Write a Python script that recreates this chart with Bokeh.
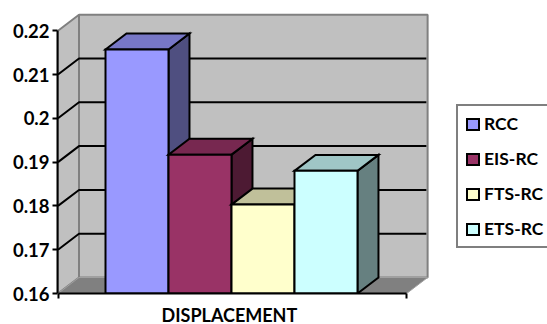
from bokeh.embed import file_html
from bokeh.models import FixedTicker, Legend, LegendItem, Range1d, Title
from bokeh.plotting import figure
from bokeh.resources import INLINE

# Series of the single DISPLACEMENT category
series = ["RCC", "EIS-RC", "FTS-RC", "ETS-RC"]
values = [0.2157, 0.1917, 0.1803, 0.188]
front_colors = ["#9999FF", "#993366", "#FFFFCC", "#CCFFFF"]
top_colors = ["#7777C6", "#772850", "#C0C09A", "#9FC6C6"]
side_colors = ["#4F4F80", "#4D1A33", "#80806A", "#668080"]

y_ticks = [0.16, 0.17, 0.18, 0.19, 0.20, 0.21, 0.22]
y_labels = ["0.16", "0.17", "0.18", "0.19", "0.2", "0.21", "0.22"]
x_label = "DISPLACEMENT"

# Pseudo-3D geometry: x is in bar widths, y in data units
Y_BASE, Y_TOP = y_ticks[0], y_ticks[-1]
DX, DY = 0.333, 0.00365
X_LEFT, X_RIGHT = -0.754, 4.78
FONT = "Lato"

p = figure(
    width=547, height=324, output_backend="svg", toolbar_location=None,
    frame_width=490, frame_height=293,
    x_range=Range1d(-0.762, 7.016),
    y_range=Range1d(Y_BASE, Y_BASE + 0.0669),
    min_border_left=57, min_border_right=0, min_border_top=0, min_border_bottom=0,
    background_fill_color="white", border_fill_color="white", outline_line_color=None,
)
p.grid.visible = False

# Walls and floor
wall = dict(fill_color="#C0C0C0", line_color="#808080", line_width=2)
p.patch([X_LEFT + DX, X_RIGHT + DX, X_RIGHT + DX, X_LEFT + DX],
        [Y_BASE + DY, Y_BASE + DY, Y_TOP + DY, Y_TOP + DY], **wall)
p.patch([X_LEFT, X_LEFT + DX, X_LEFT + DX, X_LEFT],
        [Y_BASE, Y_BASE + DY, Y_TOP + DY, Y_TOP], **wall)
p.patch([X_LEFT, X_RIGHT, X_RIGHT + DX, X_LEFT + DX],
        [Y_BASE, Y_BASE, Y_BASE + DY, Y_BASE + DY],
        fill_color="#808080", line_color="#A0A0A0", line_width=1)

# Gridlines run along the side wall and across the back wall
for tick in y_ticks[1:-1]:
    p.line([X_LEFT, X_LEFT + DX, X_RIGHT + DX - 0.02],
           [tick, tick + DY, tick + DY], line_color="black", line_width=2)

# Bars, left to right so each one overlaps the previous side face
edge = dict(line_color="black", line_width=2, line_join="miter")
legend_items = []
for i, (name, v) in enumerate(zip(series, values)):
    p.patch([i + 1, i + 1 + DX, i + 1 + DX, i + 1],
            [Y_BASE, Y_BASE + DY, v + DY, v], fill_color=side_colors[i], **edge)
    p.patch([i, i + 1, i + 1 + DX, i + DX],
            [v, v, v + DY, v + DY], fill_color=top_colors[i], **edge)
    front = p.quad(left=i, right=i + 1, bottom=Y_BASE, top=v,
                   fill_color=front_colors[i], **edge)
    legend_items.append(LegendItem(label=name, renderers=[front]))

# Axes
yax = p.yaxis[0]
yax.ticker = FixedTicker(ticks=y_ticks)
yax.major_label_overrides = dict(zip(y_ticks, y_labels))
yax.bounds = (Y_BASE, Y_TOP)
yax.axis_line_color = "black"
yax.axis_line_width = 2
yax.major_tick_line_width = 2
yax.major_tick_out = 5
yax.major_tick_in = 0
yax.minor_tick_line_color = None
yax.major_label_text_font = FONT
yax.major_label_text_font_style = "bold"
yax.major_label_text_font_size = "18.5px"
yax.major_label_text_color = "black"
yax.major_label_standoff = 3

xax = p.xaxis[0]
xax.ticker = FixedTicker(ticks=[X_LEFT, X_RIGHT])
xax.major_label_overrides = {X_LEFT: "", X_RIGHT: ""}
xax.bounds = (X_LEFT, X_RIGHT)
xax.axis_line_color = "black"
xax.axis_line_width = 2
xax.major_tick_line_width = 2
xax.major_tick_out = 5
xax.major_tick_in = 0
xax.minor_tick_line_color = None
xax.major_label_text_font_size = "1px"
xax.major_label_standoff = 7

# Category title under the front edge of the floor
p.add_layout(Title(
    text=x_label, align="left", offset=104, standoff=6,
    text_font=FONT, text_font_style="bold", text_font_size="18px", text_color="black",
), "below")

legend = Legend(
    items=legend_items, location=(399, 45), orientation="vertical",
    glyph_width=15, glyph_height=14, label_standoff=4,
    label_height=20, label_width=60, spacing=14, padding=7, margin=0,
    label_text_font=FONT, label_text_font_style="bold", label_text_font_size="17.5px",
    label_text_color="black",
    border_line_color="black", border_line_width=2,
    background_fill_color="white", background_fill_alpha=1,
)
p.add_layout(legend, "center")

open("out.html", "w").write(file_html(p, INLINE))
